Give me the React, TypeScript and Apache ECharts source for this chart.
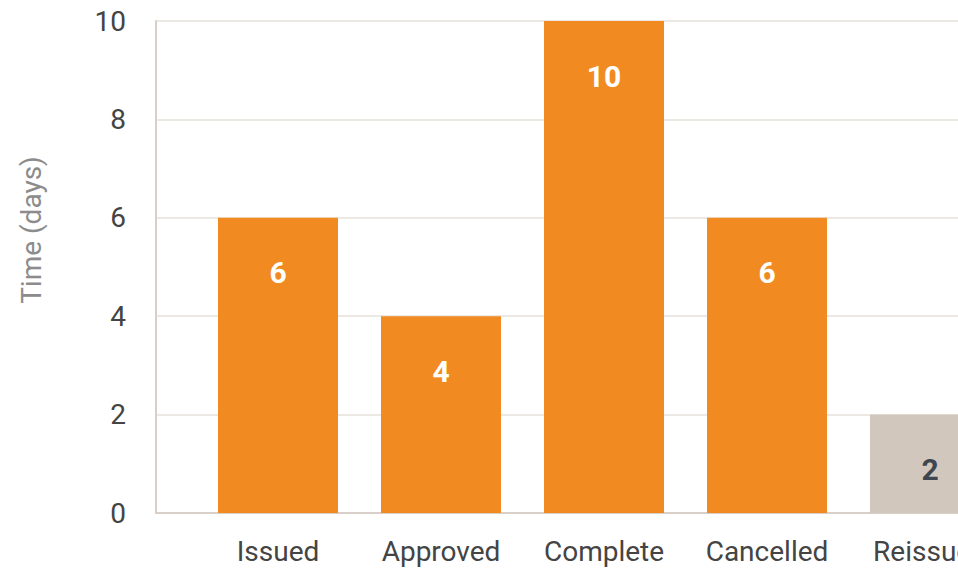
import React, { useEffect, useRef } from "react";
import * as echarts from "echarts";

const categories = ["Issued", "Approved", "Complete", "Cancelled", "Reissued"];
const days = [6, 4, 10, 6, 2];
const yTicks = { min: 0, max: 10, interval: 2 };
const axisTitle = "Time (days)";

const ORANGE = "#F18B21";
const GREY = "#D1C7BD";

export default function App() {
  const ref = useRef<HTMLDivElement>(null);
  useEffect(() => {
    if (!ref.current) return;
    const chart = echarts.init(ref.current, undefined, { renderer: "svg" });
    const font = "Roboto, 'Noto Sans', sans-serif";
    chart.setOption({
      animation: false,
      textStyle: { fontFamily: font },
      grid: [
        { left: 156, top: 21, width: 856, height: 492 },
        { left: 196.5, top: 21, width: 815, height: 492 },
      ],
      xAxis: [
        {
          gridIndex: 0,
          type: "value",
          min: 0,
          max: 1,
          axisLine: { show: true, lineStyle: { color: "#D8D0C8", width: 2 } },
          axisTick: { show: false },
          axisLabel: { show: false },
          splitLine: { show: false },
        },
        {
          gridIndex: 1,
          type: "category",
          data: categories,
          axisLine: { show: false },
          axisTick: { show: false },
          axisLabel: { color: "#444", fontSize: 28, margin: 24, fontFamily: font },
        },
      ],
      yAxis: [
        {
          gridIndex: 0,
          type: "value",
          min: yTicks.min,
          max: yTicks.max,
          interval: yTicks.interval,
          axisLine: { show: true, lineStyle: { color: "#D8D0C8", width: 2 } },
          axisTick: { show: false },
          axisLabel: { color: "#444", fontSize: 28, margin: 30, fontFamily: font },
          splitLine: { show: true, lineStyle: { color: "#ECE8E3", width: 2 } },
        },
        {
          gridIndex: 1,
          type: "value",
          min: yTicks.min,
          max: yTicks.max,
          show: false,
          splitLine: { show: false },
        },
      ],
      graphic: [
        {
          type: "text",
          x: 31,
          y: 230,
          rotation: Math.PI / 2,
          style: {
            text: axisTitle,
            fill: "#8C8C8C",
            fontSize: 28,
            fontFamily: font,
            align: "center",
            verticalAlign: "middle",
          },
        },
      ],
      series: [
        {
          type: "bar",
          xAxisIndex: 1,
          yAxisIndex: 1,
          barWidth: 120,
          data: days.map((v, i) => ({
            value: v,
            itemStyle: { color: i === days.length - 1 ? GREY : ORANGE },
            label: { color: i === days.length - 1 ? "#3F4650" : "#FFFFFF" },
          })),
          label: {
            show: true,
            position: "insideTop",
            distance: 40,
            fontSize: 30,
            fontWeight: "bold",
            fontFamily: font,
          },
        },
      ],
    });
    return () => chart.dispose();
  }, []);
  return (
    <div
      style={{
        position: "fixed",
        left: 0,
        top: 0,
        width: 958,
        height: 569,
        overflow: "hidden",
        background: "#fff",
      }}
    >
      <div ref={ref} style={{ width: 1030, height: 569 }} />
    </div>
  );
}
